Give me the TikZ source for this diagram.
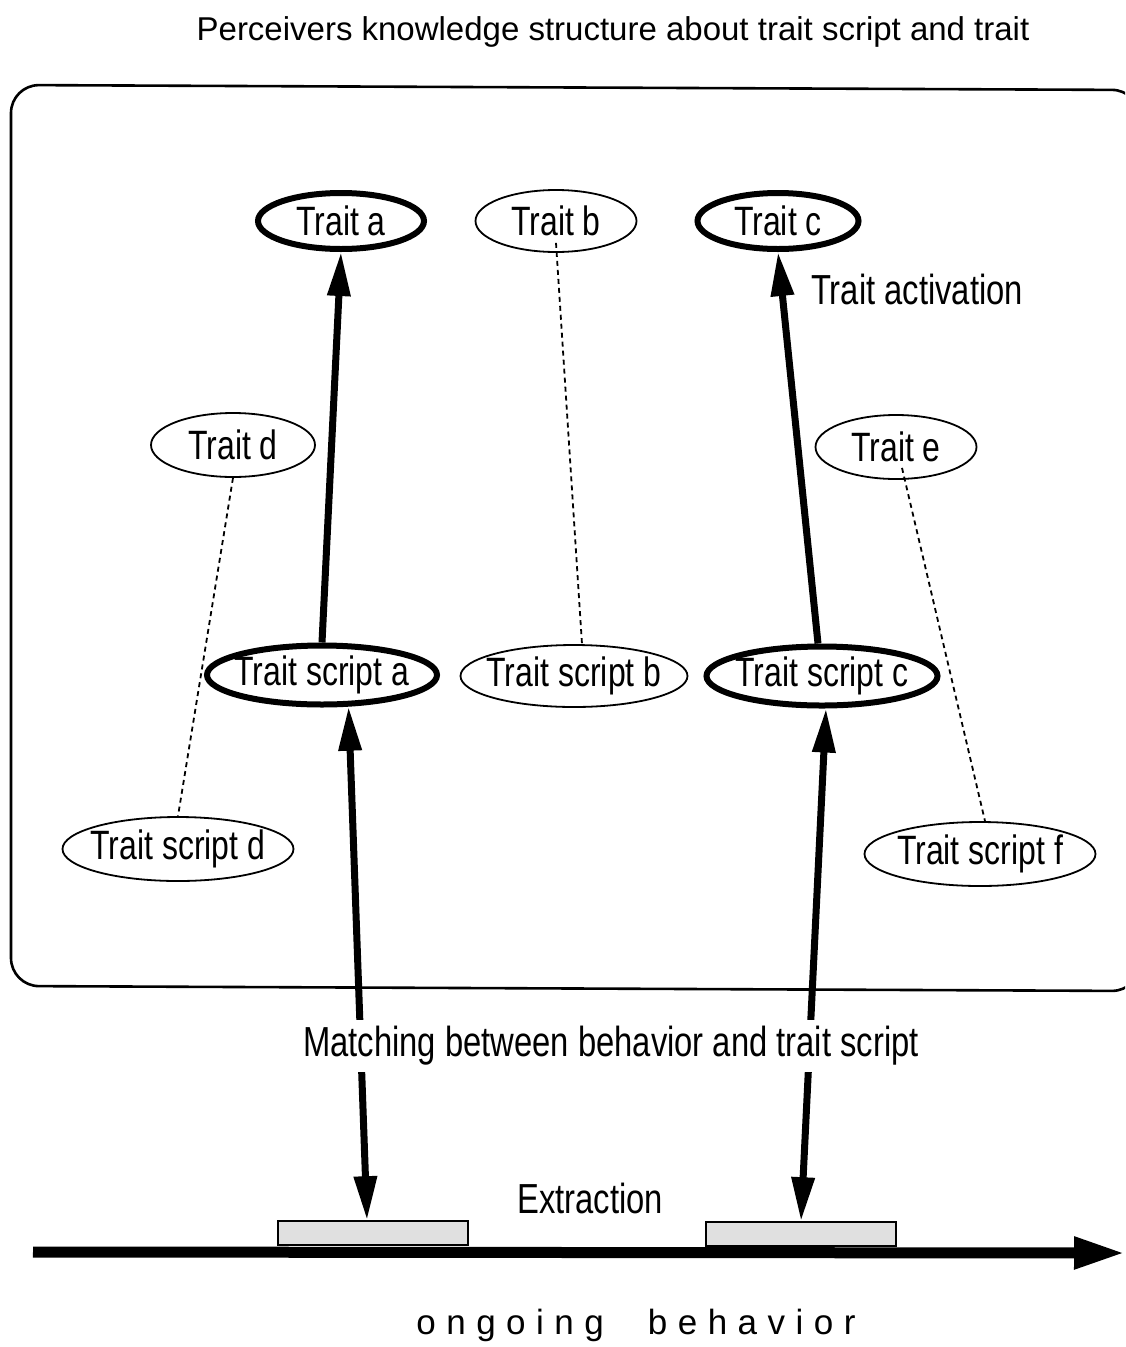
\documentclass[tikz,border=0pt]{standalone}
\usepackage{fontspec}
\setmainfont{Liberation Sans}[FakeStretch=0.78]
\newfontfamily\headfont{Liberation Sans}
\newfontfamily\widefont{Liberation Sans}[LetterSpace=30]
\usetikzlibrary{shapes.geometric,arrows.meta}
% keep the label from widening its oval
\newcommand\ovaltext[1]{\makebox[0pt]{#1}}

\begin{document}
\begin{tikzpicture}[x=1pt,y=-1pt,
  lbl/.style={inner sep=0pt,font=\fontsize{42}{48}\selectfont},
  oval/.style={ellipse,draw,line width=1.8pt,inner sep=0pt,
    minimum width=161pt,minimum height=62pt,font=\fontsize{41}{47}\selectfont},
  bold oval/.style={oval,line width=6pt,minimum height=56pt},
  link/.style={line width=1.8pt,dash pattern=on 5pt off 4pt},
  boost/.style={line width=7pt,-{Triangle[length=44pt,width=22pt]}},
  both boost/.style={line width=7pt,
    {Triangle[length=44pt,width=22pt]}-{Triangle[length=44pt,width=22pt]}},
  segment/.style={draw,line width=1.6pt,fill=black!12,inner sep=0pt,
    minimum width=190pt,minimum height=24pt}]
\useasboundingbox (0,0) rectangle (1125,1347);
\clip (0,0) rectangle (1125,1347);

% heading
\node[inner sep=0pt,font=\headfont\fontsize{33}{40}\selectfont] (title) at (613,32)
  {Perceivers knowledge structure about trait script and trait};

% frame of the knowledge structure
\draw[line width=2.6pt,rounded corners=28pt]
  (11,85) -- (1140,90) -- (1140,991) -- (11,986) -- cycle;

% traits
\node[bold oval,minimum width=166pt] (ta) at (341,221) {\ovaltext{Trait a}};
\node[oval] (tb) at (556,221) {\ovaltext{Trait b}};
\node[bold oval] (tc) at (778,221) {\ovaltext{Trait c}};
\node[oval,minimum width=164pt,minimum height=64pt] (td) at (233,445) {\ovaltext{Trait d}};
\node[oval,minimum height=64pt] (te) at (896,447) {\ovaltext{Trait e}};

% trait scripts
\node[bold oval,minimum width=230pt,minimum height=59pt] (sa) at (322,675) {\ovaltext{Trait script a}};
\node[oval,minimum width=227pt] (sb) at (574,676) {\ovaltext{Trait script b}};
\node[bold oval,minimum width=231pt,minimum height=59pt] (sc) at (822,676) {\ovaltext{Trait script c}};
\node[oval,minimum width=231pt,minimum height=64pt] (sd) at (178,849) {\ovaltext{Trait script d}};
\node[oval,minimum width=231pt,minimum height=64pt] (sf) at (980,854) {\ovaltext{Trait script f}};

\node[lbl] (act) at (917,289) {Trait activation};

% extracted segments of behavior
\node[segment] (b1) at (373,1233) {};
\node[segment] (b2) at (801,1234) {};

% ongoing behavior axis
\coordinate (axs) at (33,1252);
\coordinate (axe) at (1125,1253);
\draw[line width=11pt,-{Triangle[length=51pt,width=30pt]}] (axs) -- (axe);
\node[inner sep=0pt,font=\widefont\fontsize{35}{40}\selectfont] (beh) at (636,1325)
  {ongoing\hspace{44pt}behavior};

% weak associations
\draw[link] (td.south) -- (sd.north);
\draw[link] ([yshift=10pt]tb.south) -- ([xshift=8pt]sb.north);
\draw[link] ([xshift=6pt,yshift=12pt]te.south) -- ([xshift=5pt]sf.north);

% trait activation
\draw[boost] (sa.north) -- (ta.south);
\draw[boost] ([xshift=-4pt]sc.north) -- (tc.south);

% matching / extraction
\draw[both boost] (sa.-50) -- ([xshift=-6pt]b1.north);
\draw[both boost] ([xshift=4pt]sc.south) -- (b2.north);

% labels laid over the arrows
\node[lbl,fill=white,inner ysep=6pt,inner xsep=2pt] (match) at (611,1046)
  {Matching between behavior and trait script};
\node[lbl] (extr) at (590,1198) {Extraction};
\end{tikzpicture}
\end{document}
